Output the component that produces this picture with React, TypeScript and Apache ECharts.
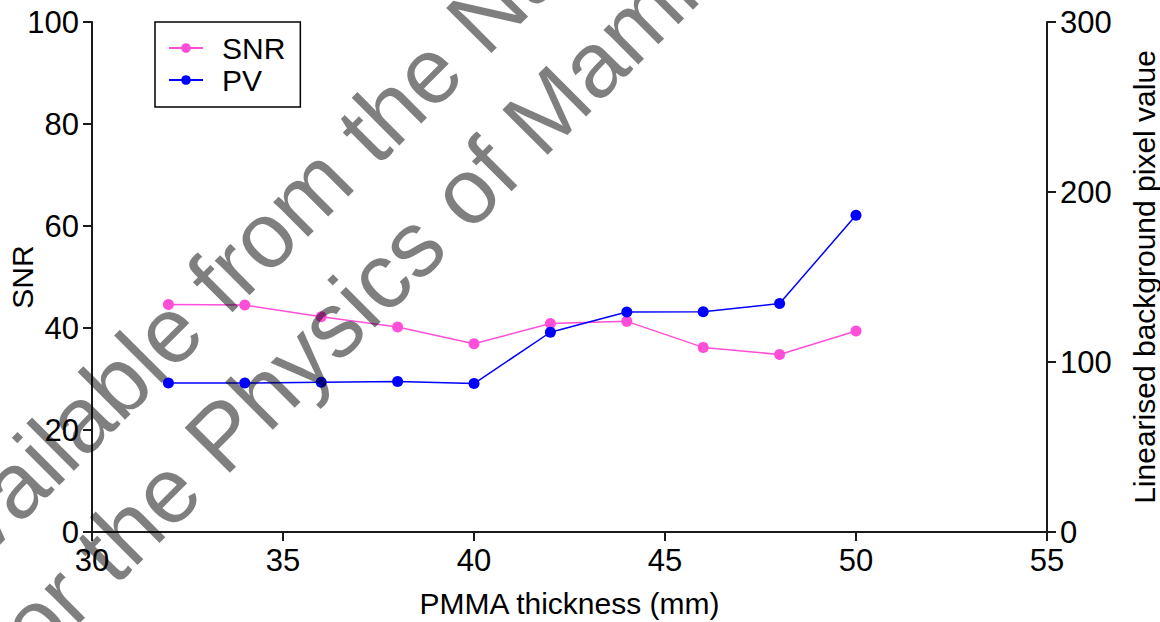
import React, { useEffect, useRef } from "react";
import * as echarts from "echarts";

// PMMA thickness (mm) at which each measurement was taken
const thickness = [32, 34, 36, 38, 40, 42, 44, 46, 48, 50];
// Signal-to-noise ratio (left axis)
const snrValues = [44.6, 44.5, 42.2, 40.2, 36.9, 40.9, 41.3, 36.2, 34.8, 39.4];
// Linearised background pixel value (right axis)
const pvValues = [87.6, 87.6, 88.1, 88.5, 87.3, 117.5, 129.4, 129.6, 134.4, 186.3];

const seriesNames = ["SNR", "PV"];
const watermarkLines = [
  "Available from the National Co-ordinating Centre",
  "for the Physics of Mammography",
];

const FONT = '"Liberation Sans", Arial, Helvetica, sans-serif';
const AXIS_COLOR = "#1a1a1a";
const PINK = "#ff4fd8";
const BLUE = "#0000ff";

export default function App() {
  const ref = useRef<HTMLDivElement>(null);

  useEffect(() => {
    if (!ref.current) return;
    const chart = echarts.init(ref.current, undefined, { renderer: "svg" });

    const axisCommon = {
      axisLine: { show: true, onZero: false, lineStyle: { color: AXIS_COLOR, width: 2 } },
      axisTick: { show: true, inside: false, length: 9, lineStyle: { color: AXIS_COLOR, width: 2 } },
      splitLine: { show: false },
      axisLabel: { color: "#000", fontSize: 31, fontFamily: FONT, margin: 13 },
      nameTextStyle: { color: "#000", fontSize: 30, fontFamily: FONT },
      nameMoveOverlap: false,
    };

    const wmFont = `93px ${FONT}`;
    // baseline origins of the two watermark lines; text is rotated 45°
    const wmOrigins = [
      [-57, 602],
      [20, 683],
    ];
    const shift = 0.3465 * 93 * Math.SQRT1_2;

    chart.setOption({
      animation: false,
      textStyle: { fontFamily: FONT },
      grid: {
        left: 92,
        right: 113,
        top: 22,
        bottom: 90,
        containLabel: false,
        outerBoundsMode: "none",
      },
      legend: {
        data: seriesNames,
        orient: "vertical",
        left: 155,
        top: 22,
        padding: [11, 15, 12, 13],
        itemGap: 2,
        itemWidth: 34,
        itemHeight: 12,
        borderColor: "#000",
        borderWidth: 1.5,
        backgroundColor: "#fff",
        textStyle: { color: "#000", fontSize: 30, fontFamily: FONT, padding: [0, 0, 0, 14] },
      },
      xAxis: {
        type: "value",
        min: 30,
        max: 55,
        interval: 5,
        name: "PMMA thickness (mm)",
        nameLocation: "middle",
        nameGap: 56,
        ...axisCommon,
      },
      yAxis: [
        {
          type: "value",
          min: 0,
          max: 100,
          interval: 20,
          position: "left",
          name: "SNR",
          nameLocation: "middle",
          nameGap: 55,
          nameRotate: 90,
          ...axisCommon,
        },
        {
          type: "value",
          min: 0,
          max: 300,
          interval: 100,
          position: "right",
          name: "Linearised background pixel value",
          nameLocation: "middle",
          nameGap: 82,
          nameRotate: 90,
          ...axisCommon,
        },
      ],
      series: [
        {
          name: "SNR",
          type: "line",
          yAxisIndex: 0,
          data: thickness.map((x, i) => [x, snrValues[i]]),
          symbol: "circle",
          symbolSize: 11,
          itemStyle: { color: PINK },
          lineStyle: { color: PINK, width: 1.5 },
        },
        {
          name: "PV",
          type: "line",
          yAxisIndex: 1,
          data: thickness.map((x, i) => [x, pvValues[i]]),
          symbol: "circle",
          symbolSize: 11,
          itemStyle: { color: BLUE },
          lineStyle: { color: BLUE, width: 1.5 },
        },
      ],
      graphic: watermarkLines.map((line, i) => ({
        type: "text",
        x: wmOrigins[i][0] - shift,
        y: wmOrigins[i][1] - shift,
        rotation: Math.PI / 4,
        z: 100,
        silent: true,
        style: {
          text: line,
          font: wmFont,
          fill: "rgba(0,0,0,0.5)",
          align: "left",
          verticalAlign: "middle",
        },
      })),
    });

    return () => chart.dispose();
  }, []);

  return (
    <div
      ref={ref}
      style={{ position: "fixed", left: 0, top: 0, width: 1160, height: 622, background: "#fff" }}
    />
  );
}
